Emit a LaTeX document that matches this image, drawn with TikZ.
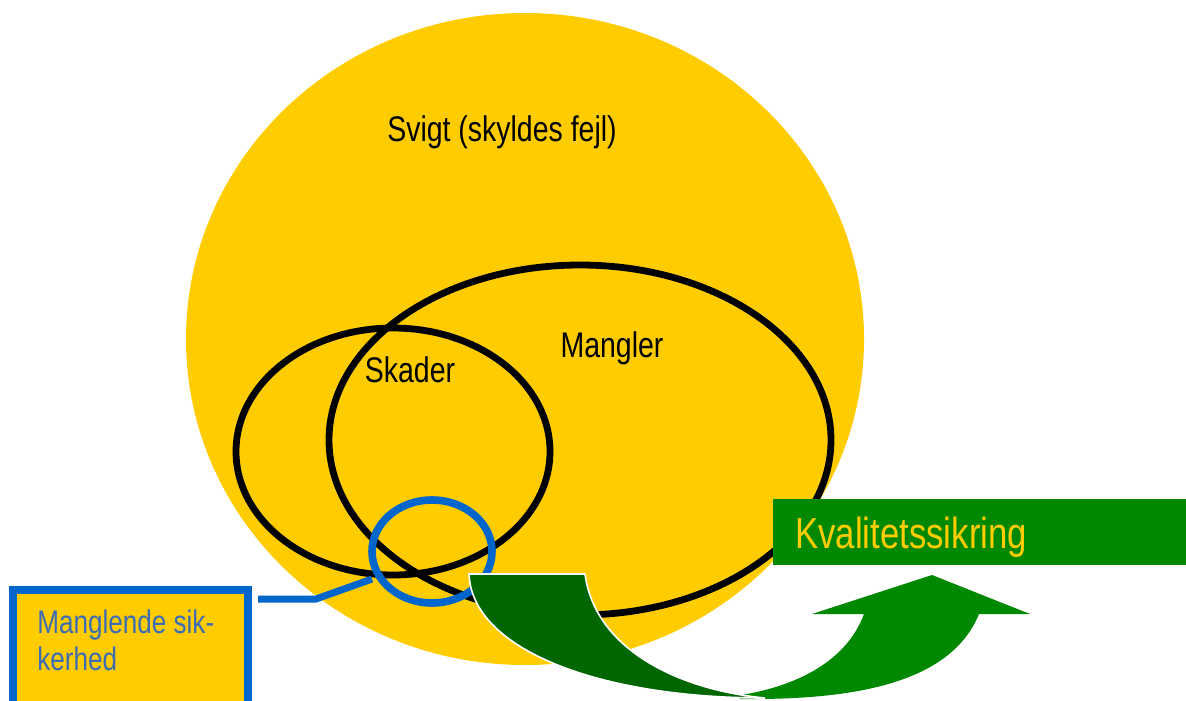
\documentclass[tikz,border=0pt]{standalone}
\usepackage{fontspec}
\newfontfamily\narrow{Liberation Sans}[FakeStretch=0.8]
\definecolor{sun}{HTML}{FFCC00}
\definecolor{ringblue}{HTML}{0066CC}
\definecolor{textblue}{HTML}{3D6CB4}
\definecolor{qgreen}{HTML}{008800}
\definecolor{backgreen}{HTML}{006600}
\tikzset{
  outline/.style={draw=black, line width=3.4pt},
  label/.style={inner sep=0pt, font=\narrow\fontsize{17.8pt}{20pt}\selectfont},
}
\begin{document}
\begin{tikzpicture}[x=0.5pt,y=-0.5pt]
\useasboundingbox (0,0) rectangle (1186,700);
\clip (0,0) rectangle (1186,700);

% failure area
\fill[sun] (525,339) ellipse [x radius=339, y radius=326];

% damages and defects
\draw[outline] (580,440) ellipse [x radius=251, y radius=175];
\draw[outline] (393,451.5) ellipse [x radius=157, y radius=123.5];

% missing safety
\draw[ringblue, line width=3.8pt] (432,551.5) ellipse [x radius=60, y radius=51.5];
\coordinate (w0) at (258,599);
\coordinate (w1) at (316,599);
\coordinate (w2) at (372,579);
\draw[ringblue, line width=3.5pt] (w0) -- (w1) -- (w2);

% legend box
\draw[ringblue, line width=4pt, fill=sun] (13,590) rectangle (248,730);
\node[label, anchor=base west, text=textblue, align=left,
      font=\narrow\fontsize{16.3pt}{18.5pt}\selectfont] (mis) at (37,670)
  {Manglende sik-\\kerhed};

% curved arrow: front part
\fill[qgreen] (735,696) .. controls (790,688) and (845,665) .. (864,614)
  -- (812,614) -- (932,575) -- (1030,614) -- (979,614)
  .. controls (950,685) and (850,700) .. (741,699) -- cycle;
% curved arrow: back part
\filldraw[fill=backgreen, draw=white, line width=0.8pt]
  (469,574) -- (585,574) .. controls (595,650) and (680,690) .. (765,698)
  .. controls (600,698) and (472,650) .. (469,574) -- cycle;

% quality assurance banner
\fill[qgreen] (773,499) rectangle (1186,565);
\node[label, anchor=base west, text=sun,
      font=\narrow\fontsize{21.7pt}{24pt}\selectfont] (qa) at (795,548) {Kvalitetssikring};

% labels
\node[label, anchor=base] (svigt) at (502,142) {Svigt (skyldes fejl)};
\node[label, anchor=base] (skader) at (410,382) {Skader};
\node[label, anchor=base] (mangler) at (612,357) {Mangler};
\end{tikzpicture}
\end{document}
